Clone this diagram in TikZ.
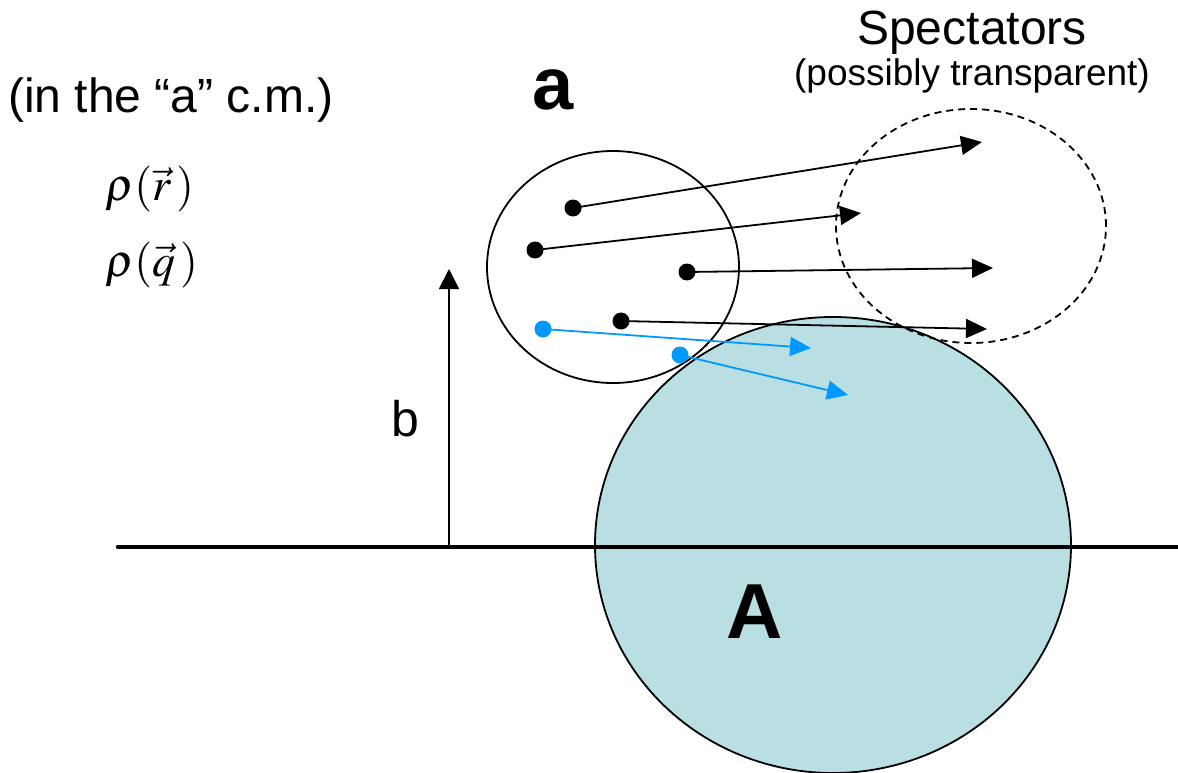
\documentclass[tikz,border=0pt]{standalone}
\usepackage{mathptmx}
\usepackage{fontspec}
\setmainfont{Liberation Sans}
\usetikzlibrary{arrows.meta}
\definecolor{nucfill}{RGB}{185,223,227}
\definecolor{partblue}{RGB}{0,153,255}
\tikzset{
  thinline/.style={line width=1.8pt, black},
  blackdot/.style={circle, fill=black, inner sep=0pt, minimum size=17pt},
  bluedot/.style={circle, fill=partblue, inner sep=0pt, minimum size=17pt},
  blackarrow/.style={line width=1.8pt, -{Triangle[length=21pt,width=19pt]}},
  bluearrow/.style={line width=1.8pt, partblue, -{Triangle[length=21pt,width=19pt]}},
  lbl/.style={inner sep=0pt, anchor=base},
}
\begin{document}
\begin{tikzpicture}[x=1pt,y=-1pt]
\useasboundingbox (0,0) rectangle (1178,773);
% target nucleus A
\draw[thinline, fill=nucfill] (833,545) ellipse [x radius=238pt, y radius=228pt];
% projectile a
\draw[thinline] (613,267) ellipse [x radius=126pt, y radius=116pt];
% spectators (dashed)
\draw[thinline, dashed, dash pattern=on 7pt off 5pt] (971,226) ellipse [x radius=135pt, y radius=117pt];
% reaction plane line
\coordinate (L0) at (118,547);
\coordinate (L1) at (1178,547);
\draw[line width=4.5pt, line cap=round] (L0) -- (L1);
% impact parameter
\coordinate (b0) at (449,547);
\coordinate (b1) at (449,269);
\draw[line width=1.8pt, -{Triangle[length=20pt,width=20pt]}] (b0) -- (b1);
\node[lbl, font=\fontsize{50}{50}\selectfont] (blbl) at (405,436) {b};
% particles
\node[blackdot] (d1) at (573,208) {};
\node[blackdot] (d2) at (535,250) {};
\node[blackdot] (d3) at (687,272) {};
\node[blackdot] (d4) at (621,321) {};
\node[bluedot] (d5) at (543,329) {};
\node[bluedot] (d6) at (680,355) {};
\coordinate (e1) at (982,142);
\coordinate (e2) at (861,213);
\coordinate (e3) at (993,268);
\coordinate (e4) at (987,329);
\coordinate (e5) at (811,348);
\coordinate (e6) at (848,395);
\draw[blackarrow] (d1.center) -- (e1);
\draw[blackarrow] (d2.center) -- (e2);
\draw[blackarrow] (d3.center) -- (e3);
\draw[blackarrow] (d4.center) -- (e4);
\draw[bluearrow] (d5.center) -- (e5);
\draw[bluearrow] (d6.center) -- (e6);
% labels
\node[inner sep=0pt, anchor=base west, font=\fontsize{48}{48}\selectfont] (frame) at (8,113) {(in the “a” c.m.)};
\node[inner sep=0pt, anchor=base west, font=\fontsize{46}{46}\selectfont] (rhor) at (105,200) {$\rho(\vec{r}\,)$};
\node[inner sep=0pt, anchor=base west, font=\fontsize{46}{46}\selectfont] (rhoq) at (105,276) {$\rho(\vec{q}\,)$};
\node[lbl, font=\fontsize{48}{48}\selectfont] (spec) at (972,45) {Spectators};
\node[lbl, font=\fontsize{37}{37}\selectfont] (transp) at (972,86) {(possibly transparent)};
\node[lbl, font=\fontsize{74}{74}\selectfont\bfseries] (alabel) at (553,110) {a};
\node[lbl, font=\fontsize{78}{78}\selectfont\bfseries] (Alabel) at (755,638) {A};
\end{tikzpicture}
\end{document}
